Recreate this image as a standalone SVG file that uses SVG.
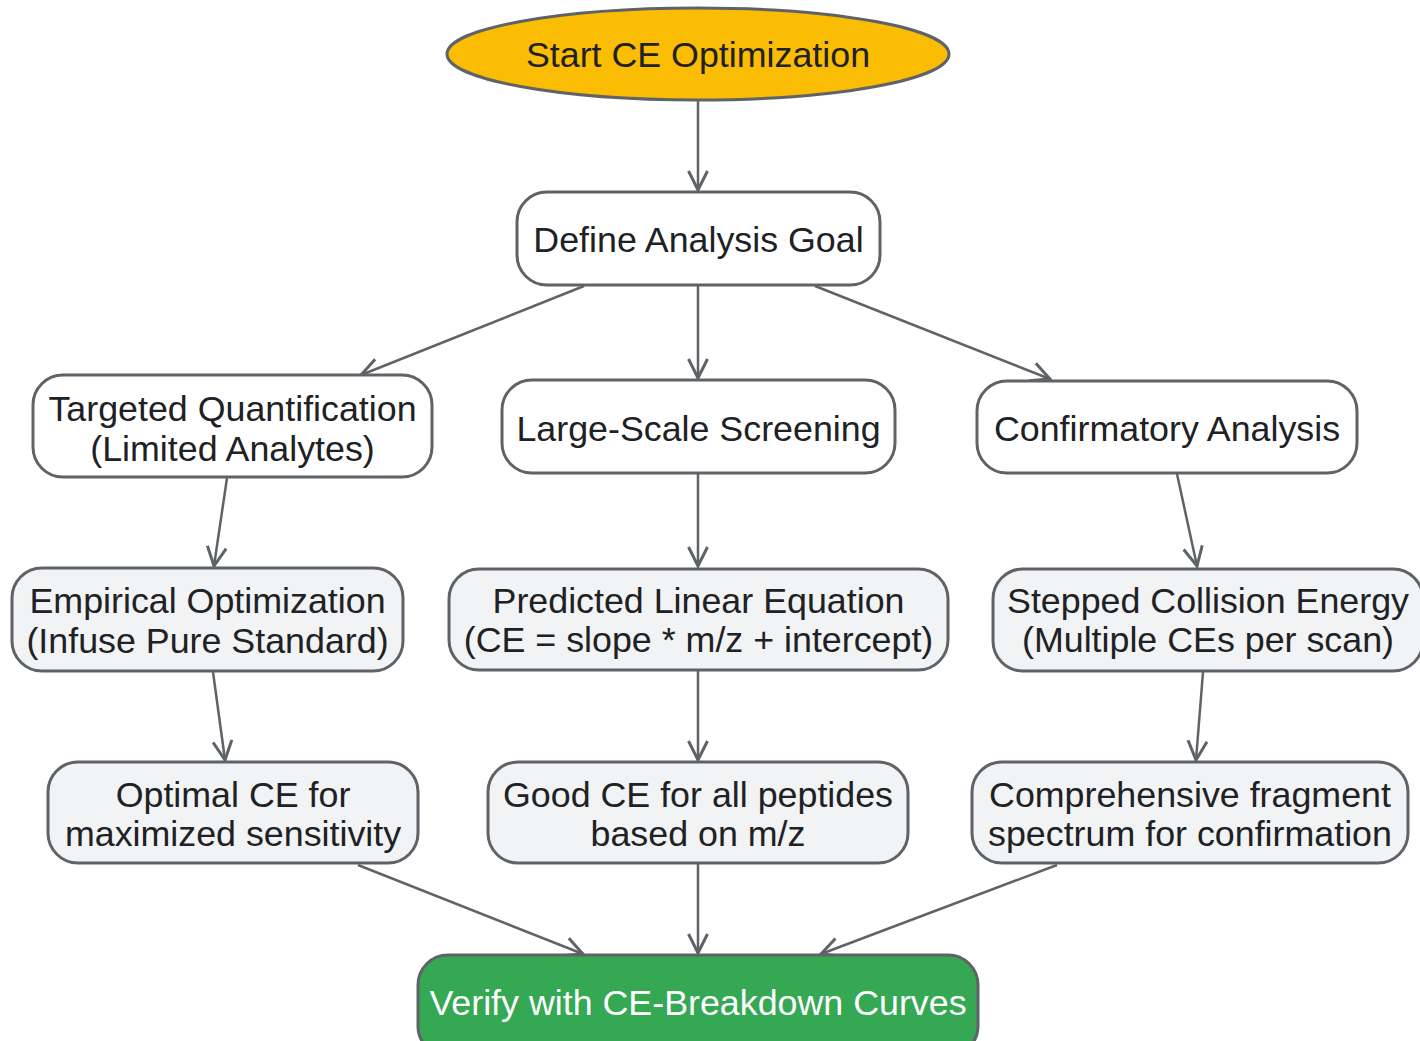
<svg xmlns="http://www.w3.org/2000/svg" width="1420" height="1041" viewBox="0 0 1420 1041">
<defs>
<style>
.box{stroke:#5f6368;stroke-width:3}
.w{fill:#ffffff}
.g{fill:#f1f3f4}
.t{font-family:"Liberation Sans",Arial,sans-serif;font-size:35.8px;fill:#202124;text-anchor:middle}
.edge{stroke:#5f6368;stroke-width:2.5;fill:none;marker-end:url(#arr)}
</style>
<marker id="arr" viewBox="0 0 22 22" refX="20" refY="11" markerWidth="22" markerHeight="22" markerUnits="userSpaceOnUse" orient="auto">
<path d="M1,1.5 L20,11 L1,20.5" fill="none" stroke="#5f6368" stroke-width="3" stroke-linejoin="miter"/>
</marker>
</defs>
<rect width="1420" height="1041" fill="#ffffff"/>
<g id="connectors">
<line class="edge" x1="698" y1="101" x2="698" y2="190"/>
<line class="edge" x1="584" y1="286" x2="361" y2="375"/>
<line class="edge" x1="698" y1="286" x2="698" y2="378"/>
<line class="edge" x1="815" y1="286" x2="1050" y2="379"/>
<line class="edge" x1="227" y1="478" x2="214" y2="566"/>
<line class="edge" x1="698" y1="474" x2="698" y2="566"/>
<line class="edge" x1="1177" y1="474" x2="1197" y2="566"/>
<line class="edge" x1="213" y1="672" x2="225" y2="760"/>
<line class="edge" x1="698" y1="671" x2="698" y2="760"/>
<line class="edge" x1="1203" y1="672" x2="1196" y2="760"/>
<line class="edge" x1="358" y1="865" x2="583" y2="954"/>
<line class="edge" x1="698" y1="864" x2="698" y2="953"/>
<line class="edge" x1="1057" y1="865" x2="821" y2="954"/>
</g>
<g id="start">
<ellipse cx="698" cy="54" rx="251" ry="46" fill="#fbbc04" stroke="#5f6368" stroke-width="3"/>
<text class="t" x="698" y="67">Start CE Optimization</text>
</g>
<g id="define">
<rect class="box w" x="517" y="192" width="363" height="93" rx="30"/>
<text class="t" x="698.5" y="252">Define Analysis Goal</text>
</g>
<g id="targeted">
<rect class="box w" x="33" y="375" width="399" height="102" rx="30"/>
<text class="t" x="232.5" y="421">Targeted Quantification</text>
<text class="t" x="232.5" y="461">(Limited Analytes)</text>
</g>
<g id="largescale">
<rect class="box w" x="502" y="380" width="393" height="93" rx="30"/>
<text class="t" x="698.5" y="441">Large-Scale Screening</text>
</g>
<g id="confirmatory">
<rect class="box w" x="977" y="381" width="380" height="92" rx="30"/>
<text class="t" x="1167" y="441">Confirmatory Analysis</text>
</g>
<g id="empirical">
<rect class="box g" x="12" y="568" width="391" height="103" rx="30"/>
<text class="t" x="207.5" y="613">Empirical Optimization</text>
<text class="t" x="207.5" y="653">(Infuse Pure Standard)</text>
</g>
<g id="predicted">
<rect class="box g" x="449" y="569" width="499" height="101" rx="30"/>
<text class="t" x="698.5" y="613">Predicted Linear Equation</text>
<text class="t" x="698.5" y="652">(CE = slope * m/z + intercept)</text>
</g>
<g id="stepped">
<rect class="box g" x="993" y="569" width="430" height="102" rx="30"/>
<text class="t" x="1208" y="613">Stepped Collision Energy</text>
<text class="t" x="1208" y="652">(Multiple CEs per scan)</text>
</g>
<g id="optimal">
<rect class="box g" x="48" y="762" width="370" height="101" rx="30"/>
<text class="t" x="233" y="807">Optimal CE for</text>
<text class="t" x="233" y="846">maximized sensitivity</text>
</g>
<g id="goodce">
<rect class="box g" x="488" y="762" width="420" height="101" rx="30"/>
<text class="t" x="698" y="807">Good CE for all peptides</text>
<text class="t" x="698" y="846">based on m/z</text>
</g>
<g id="comprehensive">
<rect class="box g" x="972" y="762" width="436" height="101" rx="30"/>
<text class="t" x="1190" y="807">Comprehensive fragment</text>
<text class="t" x="1190" y="846">spectrum for confirmation</text>
</g>
<g id="verify">
<rect class="box" x="418" y="955" width="560" height="101" rx="30" fill="#34a853"/>
<text class="t" x="698" y="1015" style="fill:#ffffff">Verify with CE-Breakdown Curves</text>
</g>
</svg>
